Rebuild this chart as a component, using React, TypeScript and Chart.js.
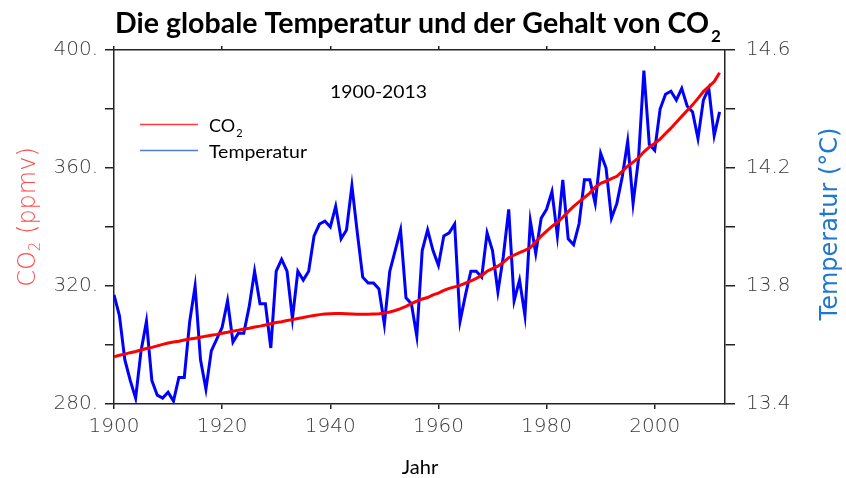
import React, { useEffect, useRef } from 'react';
import { Chart, registerables } from 'chart.js';

Chart.register(...registerables);

const START_YEAR = 1900;

const TEMPERATURE = [
  13.77, 13.70, 13.55, 13.48, 13.42, 13.58, 13.68, 13.48, 13.43, 13.42,
  13.44, 13.41, 13.49, 13.49, 13.68, 13.80, 13.55, 13.45, 13.58, 13.62,
  13.66, 13.75, 13.61, 13.64, 13.64, 13.73, 13.85, 13.74, 13.74, 13.59,
  13.85, 13.89, 13.85, 13.69, 13.85, 13.82, 13.85, 13.97, 14.01, 14.02,
  14.00, 14.07, 13.96, 13.99, 14.14, 13.98, 13.83, 13.81, 13.81, 13.79,
  13.67, 13.85, 13.92, 13.99, 13.76, 13.74, 13.63, 13.92, 13.99, 13.92,
  13.87, 13.97, 13.98, 14.01, 13.68, 13.77, 13.85, 13.85, 13.83, 13.98,
  13.92, 13.78, 13.90, 14.06, 13.75, 13.82, 13.70, 14.02, 13.91, 14.03,
  14.06, 14.12, 13.97, 14.16, 13.96, 13.94, 14.01, 14.16, 14.16, 14.08,
  14.25, 14.20, 14.03, 14.08, 14.17, 14.29, 14.08, 14.23, 14.53, 14.28,
  14.26, 14.40, 14.45, 14.46, 14.43, 14.47, 14.41, 14.39, 14.30, 14.43,
  14.47, 14.31, 14.39,
];

const CO2 = [
  296.0, 296.5, 296.9, 297.4, 297.8, 298.3, 298.8, 299.2, 299.7, 300.2,
  300.7, 301.0, 301.3, 301.7, 302.0, 302.3, 302.6, 303.0, 303.3, 303.6,
  304.0, 304.3, 304.7, 305.0, 305.4, 305.7, 306.1, 306.4, 306.8, 307.2,
  307.6, 307.9, 308.3, 308.6, 309.0, 309.3, 309.7, 310.0, 310.3, 310.5,
  310.6, 310.7, 310.7, 310.6, 310.5, 310.4, 310.4, 310.4, 310.5, 310.6,
  310.8, 311.2, 311.7, 312.3, 313.1, 314.0, 314.9, 315.6, 316.1, 317.0,
  317.6, 318.5, 319.2, 319.7, 320.2, 321.0, 321.7, 322.6, 323.6, 325.0,
  325.9, 326.7, 328.0, 329.6, 330.5, 331.3, 332.1, 333.0, 335.0, 336.9,
  338.6, 340.2, 341.6, 343.3, 345.2, 347.0, 348.5, 350.0, 351.5, 353.5,
  354.8, 355.5, 356.4, 357.2, 358.9, 360.6, 362.0, 363.4, 365.5, 367.1,
  368.4, 369.8, 371.7, 373.5, 375.5, 377.5, 379.5, 381.4, 383.6, 385.9,
  387.6, 389.3, 392.3,
];

const YEARS = TEMPERATURE.map((_, i) => START_YEAR + i);

const YEAR_TICKS = [1900, 1920, 1940, 1960, 1980, 2000];
const CO2_TICKS = [280, 300, 320, 340, 360, 380, 400];
const CO2_LABELED = [280, 320, 360, 400];
const TEMP_TICKS = [13.4, 13.6, 13.8, 14.0, 14.2, 14.4, 14.6];
const TEMP_LABELED = [13.4, 13.8, 14.2, 14.6];

const TITLE = 'Die globale Temperatur und der Gehalt von CO';
const PERIOD = '1900-2013';
const X_TITLE = 'Jahr';
const LEGEND_CO2 = 'CO';
const LEGEND_TEMP = 'Temperatur';
const Y_TITLE_LEFT = 'CO';
const Y_TITLE_LEFT_REST = ' (ppmv)';
const Y_TITLE_RIGHT = 'Temperatur (°C)';

const AXIS_COLOR = '#222222';
const TICK_TEXT = '#3c3c3c';
const TICK_FONT = { family: '"DejaVu Sans", sans-serif', size: 20, weight: '200' as any };
const TEXT_FAMILY = 'Lato, "Open Sans", sans-serif';
const AXIS_TITLE_FAMILY = '"DejaVu Sans", sans-serif';

function fitText(ctx: CanvasRenderingContext2D, text: string, x: number, y: number, width: number | null, font: string, color: string) {
  ctx.save();
  ctx.font = font;
  ctx.fillStyle = color;
  ctx.textBaseline = 'alphabetic';
  ctx.textAlign = 'left';
  const w = ctx.measureText(text).width;
  const sx = width ? width / w : 1;
  ctx.translate(x, y);
  ctx.scale(sx, 1);
  ctx.fillText(text, 0, 0);
  ctx.restore();
  return x + w * sx;
}

const textPlugin = {
  id: 'customTexts',
  afterDraw(chart: any) {
    const ctx: CanvasRenderingContext2D = chart.ctx;
    ctx.save();
    // Title
    const endX = fitText(ctx, TITLE, 115, 33, 594, `bold 28px ${TEXT_FAMILY}`, '#000');
    fitText(ctx, '2', endX + 2, 42, null, `bold 17px ${TEXT_FAMILY}`, '#000');

    // Period label
    fitText(ctx, PERIOD, 330, 98, 97, `18px ${TEXT_FAMILY}`, '#000');

    // Legend
    ctx.lineWidth = 1.5;
    ctx.strokeStyle = '#ff3b3b';
    ctx.beginPath();
    ctx.moveTo(140, 124.5);
    ctx.lineTo(198, 124.5);
    ctx.stroke();
    ctx.strokeStyle = '#4d7fcf';
    ctx.beginPath();
    ctx.moveTo(140, 150.5);
    ctx.lineTo(198, 150.5);
    ctx.stroke();
    const coEnd = fitText(ctx, LEGEND_CO2, 209, 132, null, `18px ${TEXT_FAMILY}`, '#000');
    fitText(ctx, '2', coEnd + 1, 137, null, `11px ${TEXT_FAMILY}`, '#000');
    fitText(ctx, LEGEND_TEMP, 209, 158, 98, `18px ${TEXT_FAMILY}`, '#000');

    // X title
    ctx.font = `20px ${TEXT_FAMILY}`;
    ctx.fillStyle = '#000';
    ctx.textAlign = 'center';
    ctx.textBaseline = 'alphabetic';
    ctx.fillText(X_TITLE, 420, 474);

    // Left axis title (rotated)
    ctx.save();
    ctx.translate(35, 217);
    ctx.rotate(-Math.PI / 2);
    ctx.fillStyle = '#ff4a4a';
    ctx.font = `200 24px ${AXIS_TITLE_FAMILY}`;
    const w1 = ctx.measureText(Y_TITLE_LEFT).width;
    ctx.font = `200 15px ${AXIS_TITLE_FAMILY}`;
    const w2 = ctx.measureText('2').width;
    ctx.font = `200 24px ${AXIS_TITLE_FAMILY}`;
    const w3 = ctx.measureText(Y_TITLE_LEFT_REST).width;
    const total = w1 + w2 + w3;
    let cx = -total / 2;
    ctx.textAlign = 'left';
    ctx.fillText(Y_TITLE_LEFT, cx, 0);
    cx += w1;
    ctx.font = `200 15px ${AXIS_TITLE_FAMILY}`;
    ctx.fillText('2', cx, 5);
    cx += w2;
    ctx.font = `200 24px ${AXIS_TITLE_FAMILY}`;
    ctx.fillText(Y_TITLE_LEFT_REST, cx, 0);
    ctx.restore();

    // Right axis title (rotated)
    ctx.save();
    ctx.translate(837, 224);
    ctx.rotate(-Math.PI / 2);
    ctx.fillStyle = '#1f78cf';
    ctx.font = `24px ${AXIS_TITLE_FAMILY}`;
    ctx.textAlign = 'center';
    ctx.fillText(Y_TITLE_RIGHT, 0, 0);
    ctx.restore();

    ctx.restore();
  },
};

export default function App() {
  const canvasRef = useRef<HTMLCanvasElement | null>(null);

  useEffect(() => {
    if (!canvasRef.current) return;
    const setTicks = (values: number[]) => (scale: any) => {
      scale.ticks = values.map((v) => ({ value: v }));
    };
    const commonGrid = {
      drawOnChartArea: false,
      drawTicks: true,
      color: AXIS_COLOR,
      lineWidth: 1.5,
    };
    const border = { display: true, color: AXIS_COLOR, width: 1.5 };

    const chart = new Chart(canvasRef.current, {
      type: 'line',
      data: {
        datasets: [
          {
            label: 'CO2',
            data: YEARS.map((y, i) => ({ x: y, y: CO2[i] })),
            borderColor: '#ff0000',
            borderWidth: 3,
            pointRadius: 0,
            tension: 0,
            yAxisID: 'y',
            xAxisID: 'x',
            order: 0,
          },
          {
            label: 'Temperatur',
            data: YEARS.map((y, i) => ({ x: y, y: TEMPERATURE[i] })),
            borderColor: '#0000ff',
            borderWidth: 3,
            pointRadius: 0,
            tension: 0,
            yAxisID: 'y2',
            xAxisID: 'x',
            order: 1,
          },
        ],
      },
      options: {
        responsive: false,
        animation: false,
        events: [],
        layout: { padding: 0 },
        plugins: {
          legend: { display: false },
          title: { display: false },
          tooltip: { enabled: false },
        },
        scales: {
          x: {
            type: 'linear',
            position: 'bottom',
            min: 1900,
            max: 2013,
            afterBuildTicks: setTicks(YEAR_TICKS),
            afterFit: (s: any) => { s.height = 74; },
            grid: { ...commonGrid, tickLength: 5 },
            border,
            ticks: {
              color: TICK_TEXT,
              font: TICK_FONT,
              padding: 6,
              autoSkip: false,
              maxRotation: 0,
              callback: (v: any) => String(v),
            },
          },
          x2: {
            type: 'linear',
            position: 'top',
            min: 1900,
            max: 2013,
            afterBuildTicks: setTicks(YEAR_TICKS),
            afterFit: (s: any) => { s.height = 50; },
            grid: { ...commonGrid, tickLength: 4 },
            border,
            ticks: { display: false },
          },
          y: {
            type: 'linear',
            position: 'left',
            min: 280,
            max: 400,
            afterBuildTicks: setTicks(CO2_TICKS),
            afterFit: (s: any) => { s.width = 114; },
            grid: { ...commonGrid, tickLength: 9 },
            border,
            ticks: {
              color: TICK_TEXT,
              font: TICK_FONT,
              padding: 7,
              autoSkip: false,
              callback: (v: any) => (CO2_LABELED.includes(Number(v)) ? `${v}.` : ''),
            },
          },
          y2: {
            type: 'linear',
            position: 'right',
            min: 13.4,
            max: 14.6,
            afterBuildTicks: setTicks(TEMP_TICKS),
            afterFit: (s: any) => { s.width = 121; },
            grid: { ...commonGrid, tickLength: 10 },
            border,
            ticks: {
              color: TICK_TEXT,
              font: TICK_FONT,
              padding: 11,
              autoSkip: false,
              callback: (v: any) =>
                TEMP_LABELED.some((t) => Math.abs(t - Number(v)) < 1e-6) ? Number(v).toFixed(1) : '',
            },
          },
        },
      },
      plugins: [textPlugin],
    });

    return () => chart.destroy();
  }, []);

  return (
    <div style={{ position: 'fixed', left: 0, top: 0, width: 846, height: 478, background: '#fff' }}>
      <canvas ref={canvasRef} width={846} height={478} />
    </div>
  );
}
